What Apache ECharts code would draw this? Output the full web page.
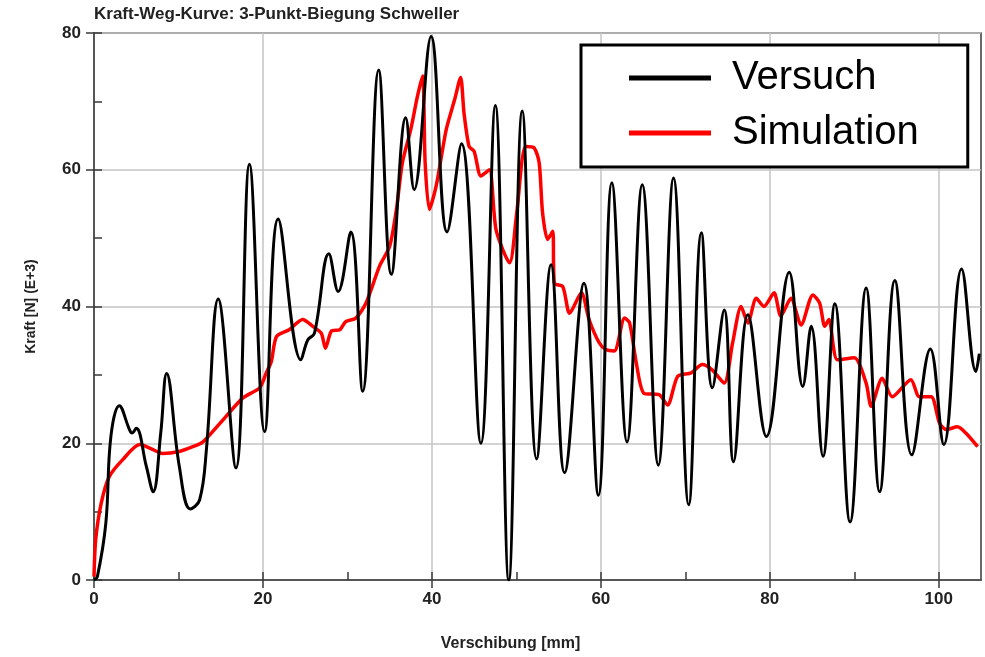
<!DOCTYPE html>
<html>
<head>
<meta charset="utf-8">
<script src="https://cdn.jsdelivr.net/npm/echarts@6/dist/echarts.min.js"></script>
<style>html,body{margin:0;padding:0;background:#fff}#c{width:985px;height:657px}</style>
</head>
<body>
<div id="c"></div>
<script>
const titleText = 'Kraft-Weg-Kurve: 3-Punkt-Biegung Schweller';
const xName = 'Verschibung [mm]';
const yName = 'Kraft [N] (E+3)';
const seriesNames = ['Versuch', 'Simulation'];
const xMajorTicks = [0, 20, 40, 60, 80, 100];
const xMinorTicks = [0, 10, 20, 30, 40, 50, 60, 70, 80, 90, 100];
const yMajorTicks = [0, 20, 40, 60, 80];
const yMinorTicks = [0, 10, 20, 30, 40, 50, 60, 70, 80];
const rightTicks = [20, 40, 60];

const versuch = [[0,0],[0.4,0.5],[1.4,8.3],[2.0,21],[3.0,25.5],[4.2,22],[4.5,21.5],[5.0,22.2],[6.2,16.6],[7.0,12.9],[7.9,21.5],[8.6,30.2],[10.1,16.6],[11.4,10.4],[12.5,11.7],[13.3,19],[14.7,41.1],[16.8,16.4],[18.4,60.8],[20.2,21.7],[21.8,52.8],[24.5,32.2],[25.3,35.1],[26.1,36.1],[27.8,47.7],[28.9,42.2],[30.4,50.9],[31.8,27.6],[33.7,74.6],[35.2,44.7],[36.9,67.6],[37.9,57.1],[39.9,79.5],[41.8,50.9],[43.5,63.8],[45.8,20.0],[47.5,69.4],[49.1,0],[50.7,68.6],[52.4,17.7],[54.1,46.1],[55.7,15.7],[58.0,43.4],[59.7,12.4],[61.3,58.1],[63.1,20.2],[64.9,57.8],[66.8,16.8],[68.6,58.8],[70.4,11.0],[71.9,50.8],[73.2,28.1],[74.6,39.5],[75.7,17.3],[77.4,38.8],[79.6,21.0],[82.3,45.0],[83.9,28.3],[84.9,37.1],[86.3,18.1],[87.7,40.4],[89.5,8.5],[91.4,42.7],[93.0,12.9],[94.8,43.8],[96.8,18.3],[99.0,33.8],[100.6,19.8],[102.7,45.5],[104.4,30.5],[104.8,33.1]];

const simulation = [[0,0.5],[0.2,5.9],[0.85,11.2],[1.8,15.1],[3.4,17.6],[5.4,19.8],[6.6,19.3],[8.1,18.5],[10.1,18.8],[11.7,19.5],[12.9,20.2],[14.9,22.9],[17.6,26.6],[19.6,28.1],[20.4,30.3],[21.0,32],[21.6,35.6],[23.1,36.6],[24.7,38.1],[25.9,37.1],[26.9,36.1],[27.4,33.9],[28.1,36.4],[29.1,36.6],[29.8,37.8],[31.0,38.3],[32.2,40.5],[33.8,45.9],[35.0,48.8],[35.8,54.2],[36.5,61.0],[37.5,65.9],[38.3,70.8],[38.9,73.7],[39.2,61],[39.7,54.2],[40.5,57.6],[41.7,65.9],[42.7,70.3],[43.4,73.5],[43.8,68.3],[44.4,63.4],[45.0,62.7],[45.8,59.1],[46.8,60.0],[47.6,51.2],[49.2,46.4],[50.0,53.2],[51.1,63.4],[52.1,63.2],[52.7,61],[53.1,53.7],[53.7,49.8],[54.3,51],[54.5,43.4],[55.5,42.9],[56.3,39.0],[57.7,42],[58.6,38.1],[59.8,34.7],[60.6,33.7],[61.6,33.5],[62.8,38.3],[63.4,37.6],[64.2,31.7],[65.1,27.3],[66.9,27.1],[67.9,25.6],[69.1,29.8],[70.7,30.3],[72.0,31.5],[73.2,30.7],[74.6,28.8],[75.6,34.7],[76.6,40.0],[77.4,37.6],[78.4,41.2],[79.3,40.0],[80.5,42.0],[81.3,38.6],[82.5,41.2],[83.7,37.3],[85.1,41.7],[85.9,40.5],[86.5,37.1],[87.0,38.1],[88.0,32.2],[90.0,32.5],[91.4,28.8],[92.0,25.4],[93.3,29.5],[94.5,26.8],[96.7,29.3],[97.7,26.8],[99.1,26.8],[100.1,22.9],[100.9,22.0],[102.2,22.4],[103.2,21.5],[104.6,19.5]];

const FONT = '"Liberation Sans", Arial, Helvetica, sans-serif';
const AX = '#3a3a3a';
const GRIDC = '#c4c4c4';
const XMIN = 0, XMAX = 105, YMIN = 0, YMAX = 80;

const chart = echarts.init(document.getElementById('c'), null, {renderer: 'canvas'});
const hiddenAxis = {axisLine:{show:false}, axisLabel:{show:false}, splitLine:{show:false}};
chart.setOption({
  animation: false,
  backgroundColor: '#fff',
  title: {
    text: titleText, left: 94, top: 6, padding: 0,
    textStyle: {fontSize: 17, fontWeight: 'bold', fontFamily: FONT, color: '#222'}
  },
  grid: {left: 94, right: 4, top: 33, bottom: 77, show: true, borderColor: AX, borderWidth: 1.5, backgroundColor: 'transparent'},
  legend: {
    orient: 'vertical', left: 581, top: 45,
    padding: [13, 49, 14, 48],
    itemWidth: 82, itemHeight: 5, itemGap: 15, icon: 'rect',
    backgroundColor: '#fff', borderColor: '#000', borderWidth: 3,
    data: seriesNames,
    textStyle: {fontSize: 40, fontFamily: FONT, color: '#000', padding: [0, 0, 0, 16]}
  },
  xAxis: [
    {type: 'value', position: 'bottom', min: XMIN, max: XMAX, interval: 20,
     name: xName, nameLocation: 'middle', nameGap: 56,
     nameTextStyle: {fontSize: 16, fontWeight: 'bold', fontFamily: FONT, color: '#222', padding: [0, 54, 0, 0]},
     axisLine: {show: true, lineStyle: {color: AX, width: 1.5}},
     axisTick: {show: true, inside: false, length: 8, customValues: xMajorTicks, lineStyle: {color: AX, width: 1.5}},
     axisLabel: {customValues: xMajorTicks, margin: 11, fontSize: 17, fontWeight: 'bold', fontFamily: FONT, color: '#222'},
     splitLine: {show: true, lineStyle: {color: GRIDC, width: 1.5}}},
    Object.assign({type: 'value', position: 'bottom', min: XMIN, max: XMAX, interval: 10,
     axisTick: {show: true, inside: true, length: 8, customValues: xMinorTicks, lineStyle: {color: AX, width: 1.5}}}, hiddenAxis),
    Object.assign({type: 'value', position: 'top', min: XMIN, max: XMAX, interval: 20,
     axisTick: {show: true, inside: true, length: 8, customValues: xMajorTicks.slice(1), lineStyle: {color: AX, width: 1.5}}}, hiddenAxis)
  ],
  yAxis: [
    {type: 'value', position: 'left', min: YMIN, max: YMAX, interval: 20,
     name: yName, nameLocation: 'middle', nameGap: 56, nameRotate: 90,
     nameTextStyle: {fontSize: 14, fontWeight: 'bold', fontFamily: FONT, color: '#222'},
     axisLine: {show: true, lineStyle: {color: AX, width: 1.5}},
     axisTick: {show: true, inside: false, length: 8, customValues: yMajorTicks, lineStyle: {color: AX, width: 1.5}},
     axisLabel: {customValues: yMajorTicks, margin: 13, fontSize: 17, fontWeight: 'bold', fontFamily: FONT, color: '#222'},
     splitLine: {show: true, lineStyle: {color: GRIDC, width: 1.5}}},
    Object.assign({type: 'value', position: 'left', min: YMIN, max: YMAX, interval: 10,
     axisTick: {show: true, inside: true, length: 8, customValues: yMinorTicks, lineStyle: {color: AX, width: 1.5}}}, hiddenAxis),
    Object.assign({type: 'value', position: 'right', min: YMIN, max: YMAX, interval: 20,
     axisTick: {show: true, inside: true, length: 8, customValues: rightTicks, lineStyle: {color: AX, width: 1.5}}}, hiddenAxis)
  ],
  series: [
    {name: seriesNames[1], type: 'line', xAxisIndex: 0, yAxisIndex: 0, data: simulation,
     showSymbol: false, smooth: 0.25, lineStyle: {color: '#ff0000', width: 3.5}, itemStyle: {color: '#ff0000'}, z: 2},
    {name: seriesNames[0], type: 'line', xAxisIndex: 0, yAxisIndex: 0, data: versuch,
     showSymbol: false, smooth: 0.4, lineStyle: {color: '#000', width: 3}, itemStyle: {color: '#000'}, z: 3}
  ]
});
</script>
</body>
</html>
